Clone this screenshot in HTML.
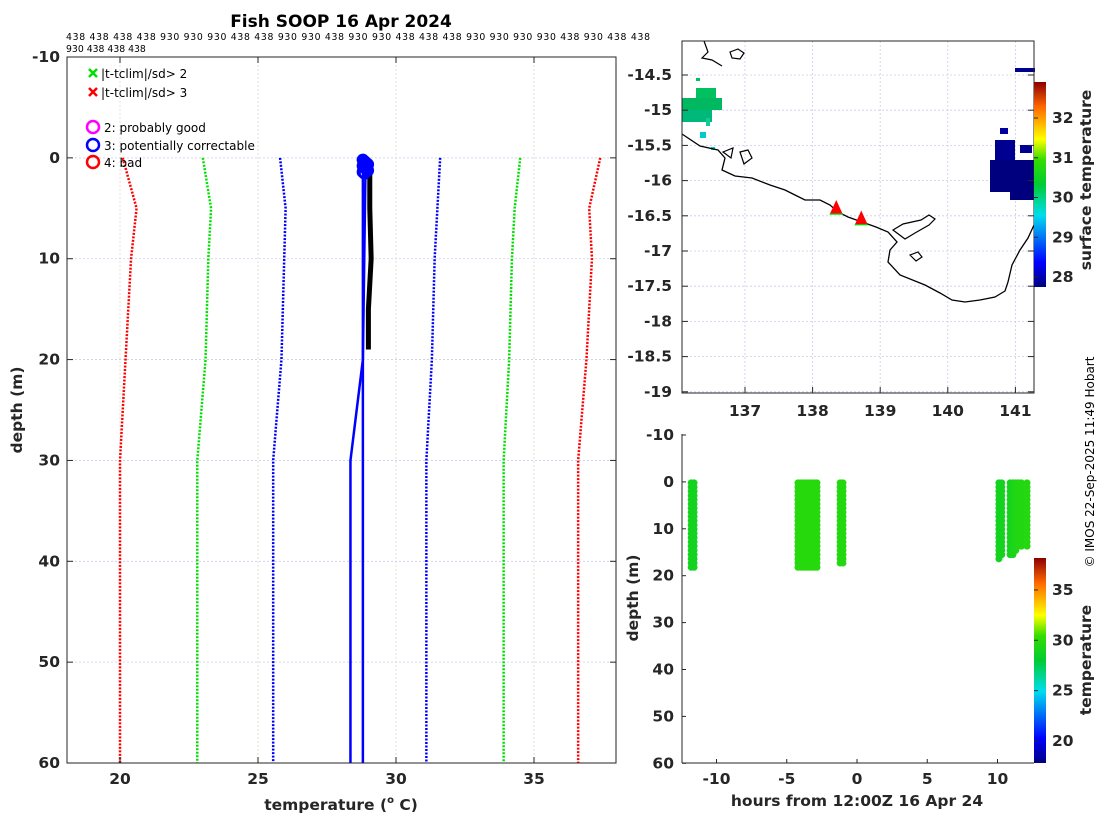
<!DOCTYPE html>
<html><head><meta charset="utf-8"><style>
html,body{margin:0;padding:0;background:#fff}
svg{display:block;font-family:"DejaVu Sans","Liberation Sans",sans-serif}
.tk{font-size:15.5px;font-weight:bold;fill:#262626}
.g{stroke:#c8cde8;stroke-width:0.8;stroke-dasharray:2,2}
.go{stroke:#e8d8c8;stroke-width:0.8;stroke-dasharray:2,2}
</style></head><body>
<svg id="s" width="1100" height="820" viewBox="0 0 1100 820" xmlns="http://www.w3.org/2000/svg">
<defs>
<linearGradient id="jet" x1="0" y1="1" x2="0" y2="0">
<stop offset="0" stop-color="#00007f"/><stop offset="0.12" stop-color="#0000ff"/><stop offset="0.35" stop-color="#00ddee"/><stop offset="0.5" stop-color="#00cc33"/><stop offset="0.62" stop-color="#33dd00"/><stop offset="0.72" stop-color="#ffff00"/><stop offset="0.88" stop-color="#ff6600"/><stop offset="1" stop-color="#8b0000"/>
</linearGradient>
</defs>
<text x="341" y="27" text-anchor="middle" font-size="17" font-weight="bold" fill="#000">Fish SOOP 16 Apr 2024</text>
<text x="66" y="40" font-size="9.3" fill="#000" textLength="584">438 438 438 438 930 930 930 438 438 930 930 438 930 930 438 438 438 930 930 930 930 438 930 438 438</text>
<text x="66" y="52" font-size="9.3" fill="#000">930 438 438 438</text>
<g id="left"></g>
<g id="map"></g>
<g id="bot"></g>
<text transform="translate(1094,462) rotate(-90)" text-anchor="middle" font-size="12" fill="#000">© IMOS 22-Sep-2025 11:49 Hobart</text>
</svg>
<script>
// ---------- data ----------
const climDepths=[0,5,10,20,30,60];
const red3Lo=[20.1,20.6,20.4,20.2,20.0,20.0];
const grn2Lo=[23.0,23.3,23.2,23.1,22.8,22.8];
const blu1Lo=[25.8,26.0,25.95,25.85,25.55,25.55];
const blu1Hi=[31.6,31.5,31.4,31.3,31.1,31.1];
const grn2Hi=[34.5,34.3,34.2,34.1,33.9,33.9];
const red3Hi=[37.4,37.0,37.1,36.9,36.6,36.6];
const profADepth=[0,60]; const profATemp=[28.8,28.8];
const profBDepth=[0,10,20,30,60]; const profBTemp=[28.9,28.85,28.8,28.35,28.35];
const profCDepth=[1,5,10,15,19]; const profCTemp=[29.05,29.05,29.1,29.0,29.0];
const xTicksL=[20,25,30,35]; const yTicksL=[-10,0,10,20,30,40,50,60];
const lonTicks=[137,138,139,140,141]; const latTicks=[-14.5,-15,-15.5,-16,-16.5,-17,-17.5,-18,-18.5,-19];
const shipLon=[138.35,138.72]; const shipLat=[-16.4,-16.55];
const sstTicks=[28,29,30,31,32];
const castHours=[-11.8,-11.6,-4.2,-4.0,-3.8,-3.6,-3.4,-3.2,-3.0,-2.85,-1.2,-1.0,10.1,10.3,10.9,11.1,11.3,11.5,11.7,12.1];
const castMaxDepth=[18.5,18.5,18.5,18.5,18.8,18.8,18.5,18.5,18.5,18.5,18,18,16.5,16,16,16,15,14.5,14.5,14.5];
const castTemp=[28.9,28.9,29.8,29.8,29.8,29.8,29.8,29.8,29.8,29.8,29.7,29.7,28.9,28.9,28.9,29.1,29.4,29.6,29.6,29.7];
const hourTicks=[-10,-5,0,5,10]; const depthTicksB=[-10,0,10,20,30,40,50,60];
const tempTicks=[20,25,30,35];
// ---------- helpers ----------
const NS="http://www.w3.org/2000/svg";
function mk(p,t,a){const e=document.createElementNS(NS,t);for(const k in a)e.setAttribute(k,a[k]);p.appendChild(e);return e;}
function jet(v){const st=[[0,[0,0,127]],[0.12,[0,0,255]],[0.35,[0,221,238]],[0.5,[0,204,51]],[0.62,[51,221,0]],[0.72,[255,255,0]],[0.88,[255,102,0]],[1,[139,0,0]]];v=Math.max(0,Math.min(1,v));for(let i=1;i<st.length;i++){if(v<=st[i][0]){const f=(v-st[i-1][0])/(st[i][0]-st[i-1][0]);const c=st[i-1][1].map((x,j)=>Math.round(x+f*(st[i][1][j]-x)));return `rgb(${c})`;}}return "rgb(139,0,0)";}
// ---------- left profile ----------
const L=document.getElementById('left');
const lx=t=>120+(t-20)*27.6, ly=d=>57+(d+10)*10.086;
xTicksL.forEach(t=>{const e=mk(L,'line',{x1:lx(t),x2:lx(t),y1:57,y2:763,class:'go'});});
yTicksL.forEach(d=>{const e=mk(L,'line',{x1:67,x2:616,y1:ly(d),y2:ly(d),class:'g'});});
[[red3Lo,'#ff0000'],[grn2Lo,'#00e000'],[blu1Lo,'#0000ff'],[blu1Hi,'#0000ff'],[grn2Hi,'#00e000'],[red3Hi,'#ff0000']].forEach(([arr,c])=>{
 const e=mk(L,'polyline',{points:arr.map((t,i)=>lx(t)+','+ly(climDepths[i])).join(' '),fill:'none',stroke:c,'stroke-width':2.5,'stroke-dasharray':'2,1.5'});
 });
[[profATemp,profADepth,'#0000ff',2.5],[profBTemp,profBDepth,'#0000ff',2.5],[profCTemp,profCDepth,'#000',5]].forEach(([t,d,c,w])=>{
 const e=mk(L,'polyline',{points:t.map((v,i)=>lx(v)+','+ly(d[i])).join(' '),fill:'none',stroke:c,'stroke-width':w});
 });
for(let i=0;i<10;i++){const e=mk(L,'circle',{cx:lx(28.8+0.06*(i%4)),cy:ly(0.2+i*0.15),r:5,fill:'none',stroke:'#0000ff','stroke-width':2.5});}
{const e=mk(L,'rect',{x:67,y:57,width:549,height:706,fill:'none',stroke:'#262626','stroke-width':1});}
xTicksL.forEach(t=>{mk(L,'line',{x1:lx(t),x2:lx(t),y1:763,y2:757,stroke:'#262626'});mk(L,'line',{x1:lx(t),x2:lx(t),y1:57,y2:63,stroke:'#262626'});const e=mk(L,'text',{x:lx(t),y:784,'text-anchor':'middle',class:'tk'});e.textContent=t;});
yTicksL.forEach(d=>{mk(L,'line',{x1:67,x2:73,y1:ly(d),y2:ly(d),stroke:'#262626'});mk(L,'line',{x1:616,x2:610,y1:ly(d),y2:ly(d),stroke:'#262626'});const e=mk(L,'text',{x:60,y:ly(d)+5,'text-anchor':'end',class:'tk'});e.textContent=d;});
{const e=mk(L,'text',{x:341,y:810,'text-anchor':'middle',class:'tk','font-size':'16'});e.innerHTML='temperature (<tspan font-size="10" dy="-7">o</tspan><tspan dy="7"> C)</tspan>';}
{const e=mk(L,'text',{transform:'translate(22,410) rotate(-90)','text-anchor':'middle',class:'tk','font-size':'16'});e.textContent='depth (m)';}
const leg=[['x','#00e000','|t-tclim|/sd> 2',74],['x','#ff0000','|t-tclim|/sd> 3',93],['o','#ff00ff','2: probably good',128],['o','#0000ff','3: potentially correctable',146],['o','#ff0000','4: bad',163]];
leg.forEach(([m,c,txt,y])=>{
 if(m==='x'){mk(L,'path',{d:`M89 ${y-5}l8 8m0 -8l-8 8`,stroke:c,'stroke-width':2.5});}
 else mk(L,'circle',{cx:93,cy:y-1,r:6,fill:'none',stroke:c,'stroke-width':2.5});
 const e=mk(L,'text',{x:m==='x'?101:104,y:y+4,'font-size':12,fill:'#000'});e.textContent=txt;});
// ---------- map ----------
const M=document.getElementById('map');
const mx=lo=>745+(lo-137)*67.6, my=la=>75+(-14.5-la)*70.4;
lonTicks.forEach(v=>{mk(M,'line',{x1:mx(v),x2:mx(v),y1:41,y2:393,class:'g'});});
latTicks.forEach(v=>{mk(M,'line',{x1:682,x2:1034,y1:my(v),y2:my(v),class:'g'});});
const sstG=[[682,98,40,12,'#00b860'],[682,110,30,12,'#00b87a'],[696,88,20,10,'#00c060'],[696,78,4,3,'#00c060'],[706,118,4,8,'#11cc99'],[700,132,6,6,'#00ccd0'],[711,147,4,3,'#00ccd0'],
[990,160,44,32,'#00007f'],[995,140,20,20,'#000090'],[1000,128,8,6,'#0000a0'],[1015,68,20,4,'#000090'],[1020,145,12,8,'#000090'],[1010,190,24,10,'#00007f']];
sstG.forEach(r=>{const e=mk(M,'rect',{x:r[0],y:r[1],width:r[2],height:r[3],fill:r[4]});});
{const e=mk(M,'polyline',{points:'682,134 700,146 718,150 725,158 722,170 735,176 752,178 770,185 785,190 795,195 805,200 820,200 830,205 838,212 848,217 862,222 876,227 888,232 897,242 890,250 888,262 900,275 925,285 940,293 952,300 965,302 980,300 995,297 1005,291 1008,282 1012,265 1020,250 1028,238 1034,225',fill:'none',stroke:'#000','stroke-width':1.3});}
{const e=mk(M,'path',{d:'M704 41 L708 52 L702 58 L712 60 L722 66 M730 52 l8 -3 l6 4 l-4 6 l-8 -1 z M893 230 l10 -6 l18 -4 l8 -5 l6 4 l-6 6 l-14 8 l-10 6 z M910 255 l8 -3 l4 5 l-6 4 z M723 152 l10 -4 l-2 10 z M740 152 l8 -2 l4 8 l-8 6 z',fill:'none',stroke:'#000','stroke-width':1.2});}
shipLon.forEach((lo,i)=>{const x=mx(lo),y=my(shipLat[i]);
 const g=mk(M,'polygon',{points:`${x-7},${y+6} ${x+7},${y+6} ${x},${y-6}`,fill:'#00e000'});
 const e=mk(M,'polygon',{points:`${x-5},${y+4} ${x+5},${y+4} ${x},${y-7}`,fill:'#ff0000',stroke:'#ff0000','stroke-width':1.5});});
{const e=mk(M,'rect',{x:682,y:41,width:352,height:352,fill:'none',stroke:'#262626'});}
lonTicks.forEach(v=>{mk(M,'line',{x1:mx(v),x2:mx(v),y1:393,y2:387,stroke:'#262626'});const e=mk(M,'text',{x:mx(v),y:416,'text-anchor':'middle',class:'tk'});e.textContent=v;});
latTicks.forEach(v=>{mk(M,'line',{x1:682,x2:688,y1:my(v),y2:my(v),stroke:'#262626'});mk(M,'line',{x1:1034,x2:1028,y1:my(v),y2:my(v),stroke:'#262626'});const e=mk(M,'text',{x:672,y:my(v)+5,'text-anchor':'end',class:'tk'});e.textContent=v;});
const cy1=t=>277-(t-28)*39.75;
{const e=mk(M,'rect',{x:1034,y:82,width:12,height:205,fill:'url(#jet)'});}
sstTicks.forEach(t=>{mk(M,'line',{x1:1034,x2:1038,y1:cy1(t),y2:cy1(t),stroke:'#262626'});const e=mk(M,'text',{x:1052,y:cy1(t)+5,class:'tk'});e.textContent=t;});
{const e=mk(M,'text',{transform:'translate(1091,180) rotate(-90)','text-anchor':'middle',class:'tk'});e.textContent='surface temperature';}
// ---------- bottom ----------
const B=document.getElementById('bot');
const bx=h=>857+h*14.05, by=d=>435+(d+10)*4.69;
castHours.forEach((h,i)=>{for(let d=0.2;d<=castMaxDepth[i];d+=0.9){const e=mk(B,'circle',{cx:bx(h),cy:by(d),r:3.5,fill:jet((castTemp[i]-17.7)/20.5)});}});
mk(B,'line',{x1:682,x2:682,y1:434,y2:763,stroke:'#262626'});mk(B,'line',{x1:682,x2:1034,y1:763,y2:763,stroke:'#262626'});
hourTicks.forEach(h=>{mk(B,'line',{x1:bx(h),x2:bx(h),y1:763,y2:759,stroke:'#262626'});const e=mk(B,'text',{x:bx(h),y:784,'text-anchor':'middle',class:'tk'});e.textContent=h;});
depthTicksB.forEach(d=>{mk(B,'line',{x1:682,x2:686,y1:by(d),y2:by(d),stroke:'#262626'});const e=mk(B,'text',{x:674,y:by(d)+5,'text-anchor':'end',class:'tk'});e.textContent=d;});
{const e=mk(B,'text',{x:857,y:806,'text-anchor':'middle',class:'tk','font-size':'16'});e.textContent='hours from 12:00Z 16 Apr 24';}
{const e=mk(B,'text',{transform:'translate(638,598) rotate(-90)','text-anchor':'middle',class:'tk','font-size':'16'});e.textContent='depth (m)';}
const cy2=t=>741-(t-20)*10.07;
{const e=mk(B,'rect',{x:1034,y:558,width:12,height:205,fill:'url(#jet)'});}
tempTicks.forEach(t=>{mk(B,'line',{x1:1034,x2:1038,y1:cy2(t),y2:cy2(t),stroke:'#262626'});const e=mk(B,'text',{x:1052,y:cy2(t)+5,class:'tk'});e.textContent=t;});
{const e=mk(B,'text',{transform:'translate(1091,660) rotate(-90)','text-anchor':'middle',class:'tk'});e.textContent='temperature';}
</script>
</body></html>
